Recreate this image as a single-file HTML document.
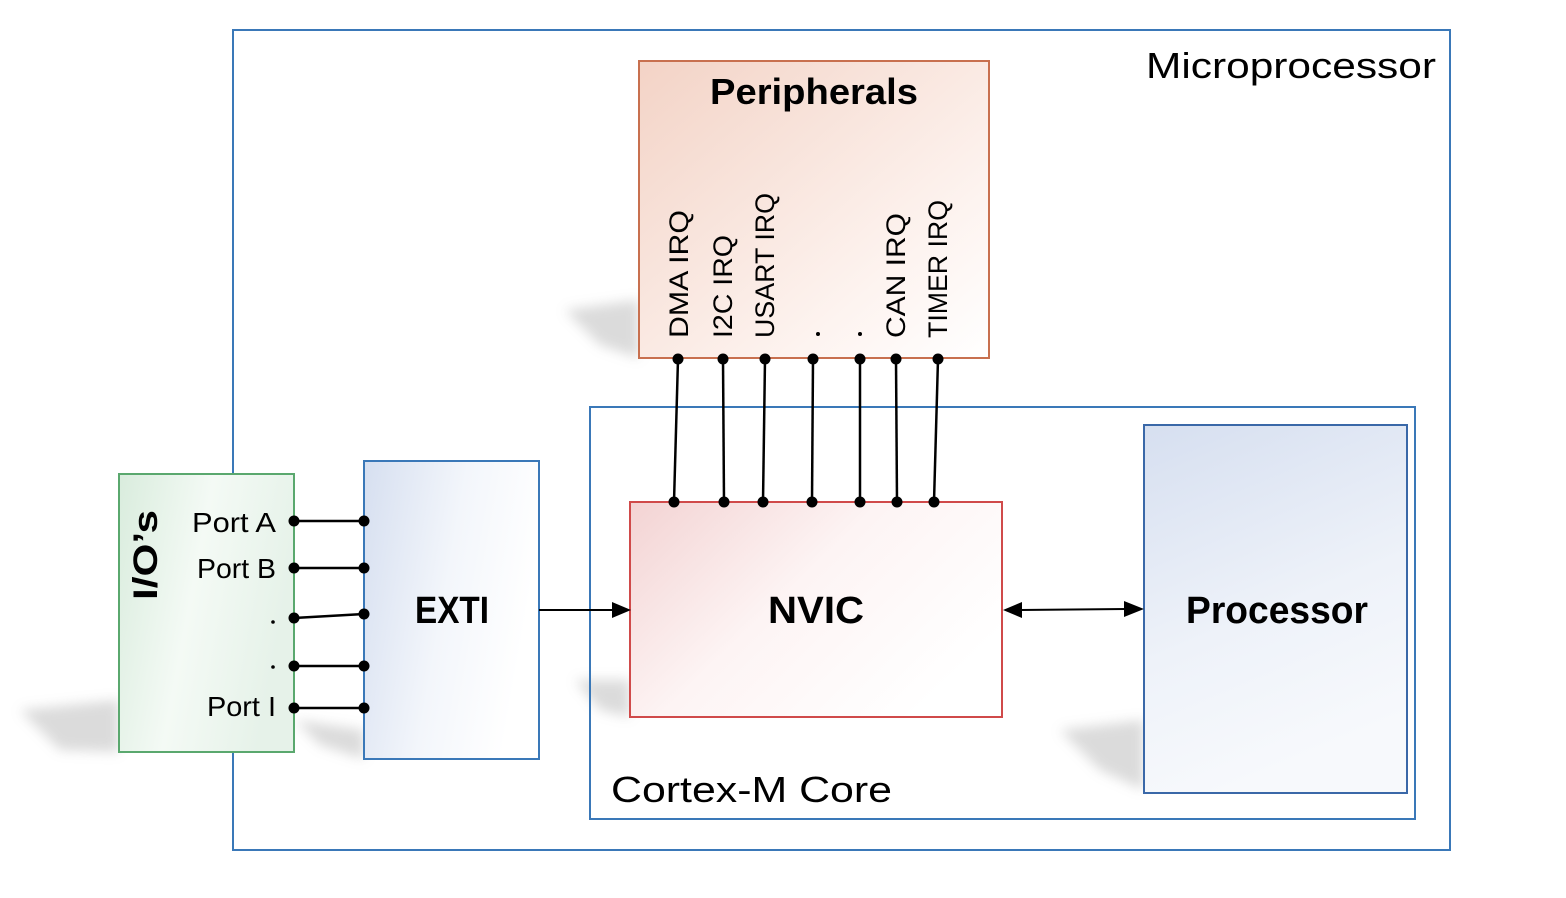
<!DOCTYPE html>
<html><head><meta charset="utf-8"><style>html,body{margin:0;padding:0;background:#fff}svg{display:block}</style></head>
<body>
<svg width="1566" height="898" viewBox="0 0 1566 898" xmlns="http://www.w3.org/2000/svg" font-family="'Liberation Sans', 'DejaVu Sans', sans-serif">
<defs>
<linearGradient id="gp" x1="0" y1="0" x2="1" y2="1"><stop offset="0" stop-color="#f3d3c6"/><stop offset="0.7" stop-color="#fdf3ef"/><stop offset="1" stop-color="#ffffff"/></linearGradient>
<linearGradient id="gn" x1="0" y1="0" x2="1" y2="0.6"><stop offset="0" stop-color="#f3d3d3"/><stop offset="0.5" stop-color="#fdf4f4"/><stop offset="1" stop-color="#ffffff"/></linearGradient>
<linearGradient id="gb" x1="0" y1="0" x2="1" y2="0.3"><stop offset="0" stop-color="#d6dff0"/><stop offset="0.55" stop-color="#f3f6fb"/><stop offset="1" stop-color="#ffffff"/></linearGradient>
<linearGradient id="gpr" x1="0" y1="0" x2="0.3" y2="1"><stop offset="0" stop-color="#d6dff0"/><stop offset="0.6" stop-color="#eef2f9"/><stop offset="1" stop-color="#f7f9fc"/></linearGradient>
<linearGradient id="gg" x1="0" y1="0" x2="1" y2="0.3"><stop offset="0" stop-color="#d9ecdd"/><stop offset="0.5" stop-color="#f4faf5"/><stop offset="1" stop-color="#e6f2e9"/></linearGradient>
<filter id="bl" x="-20%" y="-20%" width="140%" height="140%"><feGaussianBlur stdDeviation="6"/></filter>
</defs>
<g fill="#999" opacity="0.35" filter="url(#bl)">
<polygon points="565,310 639,300 639,358 600,345"/>
<polygon points="20,710 119,700 119,752 60,750"/>
<polygon points="575,680 630,680 630,717 600,710"/>
<polygon points="1060,730 1144,720 1144,790 1100,770"/>
<polygon points="295,720 364,730 364,759 320,745"/>
</g>
<rect x="233" y="30" width="1217" height="820" fill="none" stroke="#3a78b8" stroke-width="2"/>
<text x="1436" y="78" font-size="36" text-anchor="end" textLength="290" lengthAdjust="spacingAndGlyphs">Microprocessor</text>
<rect x="590" y="407" width="825" height="412" fill="none" stroke="#3a78b8" stroke-width="2"/>
<text x="611" y="802" font-size="36" textLength="281" lengthAdjust="spacingAndGlyphs">Cortex-M Core</text>
<rect x="639" y="61" width="350" height="297" fill="url(#gp)" stroke="#c8704f" stroke-width="2"/>
<text x="814" y="104" font-size="36" font-weight="bold" text-anchor="middle" textLength="208" lengthAdjust="spacingAndGlyphs">Peripherals</text>
<g font-size="27">
<text transform="translate(688,338) rotate(-90)" textLength="128" lengthAdjust="spacingAndGlyphs">DMA IRQ</text>
<text transform="translate(732,338) rotate(-90)" textLength="103" lengthAdjust="spacingAndGlyphs">I2C IRQ</text>
<text transform="translate(774,338) rotate(-90)" textLength="145" lengthAdjust="spacingAndGlyphs">USART IRQ</text>
<text transform="translate(905,338) rotate(-90)" textLength="125" lengthAdjust="spacingAndGlyphs">CAN IRQ</text>
<text transform="translate(947,338) rotate(-90)" textLength="138" lengthAdjust="spacingAndGlyphs">TIMER IRQ</text>
</g>
<circle cx="818" cy="334" r="2" fill="#000"/><circle cx="860" cy="334" r="2" fill="#000"/>
<rect x="630" y="502" width="372" height="215" fill="url(#gn)" stroke="#d04a4a" stroke-width="2"/>
<text x="816" y="623" font-size="38" font-weight="bold" text-anchor="middle" textLength="96" lengthAdjust="spacingAndGlyphs">NVIC</text>
<g stroke="#000" stroke-width="2.5" fill="#000">
<line x1="678" y1="359" x2="674" y2="502"/><line x1="723" y1="359" x2="724" y2="502"/><line x1="765" y1="359" x2="763" y2="502"/><line x1="813" y1="359" x2="812" y2="502"/><line x1="860" y1="359" x2="860" y2="502"/><line x1="896" y1="359" x2="897" y2="502"/><line x1="938" y1="359" x2="934" y2="502"/>
</g>
<g fill="#000">
<circle cx="678" cy="359" r="5.5"/><circle cx="723" cy="359" r="5.5"/><circle cx="765" cy="359" r="5.5"/><circle cx="813" cy="359" r="5.5"/><circle cx="860" cy="359" r="5.5"/><circle cx="896" cy="359" r="5.5"/><circle cx="938" cy="359" r="5.5"/>
<circle cx="674" cy="502" r="5.5"/><circle cx="724" cy="502" r="5.5"/><circle cx="763" cy="502" r="5.5"/><circle cx="812" cy="502" r="5.5"/><circle cx="860" cy="502" r="5.5"/><circle cx="897" cy="502" r="5.5"/><circle cx="934" cy="502" r="5.5"/>
</g>
<rect x="1144" y="425" width="263" height="368" fill="url(#gpr)" stroke="#3a68a8" stroke-width="2"/>
<text x="1277" y="623" font-size="38" font-weight="bold" text-anchor="middle" textLength="182" lengthAdjust="spacingAndGlyphs">Processor</text>
<rect x="364" y="461" width="175" height="298" fill="url(#gb)" stroke="#3a78b8" stroke-width="2"/>
<text x="452" y="623" font-size="38" font-weight="bold" text-anchor="middle" textLength="74" lengthAdjust="spacingAndGlyphs">EXTI</text>
<rect x="119" y="474" width="175" height="278" fill="url(#gg)" stroke="#5aa86e" stroke-width="2"/>
<text transform="translate(157,555) rotate(-90)" font-size="34" font-weight="bold" text-anchor="middle" textLength="90" lengthAdjust="spacingAndGlyphs">I/O’s</text>
<g font-size="28" text-anchor="end">
<text x="276" y="532" textLength="84" lengthAdjust="spacingAndGlyphs">Port A</text>
<text x="276" y="578" textLength="79" lengthAdjust="spacingAndGlyphs">Port B</text>
<text x="276" y="716" textLength="69" lengthAdjust="spacingAndGlyphs">Port I</text>
</g>
<circle cx="273" cy="622" r="1.8" fill="#000"/><circle cx="273" cy="667" r="1.8" fill="#000"/>
<g stroke="#000" stroke-width="2.5">
<line x1="294" y1="521" x2="364" y2="521"/><line x1="294" y1="568" x2="364" y2="568"/><line x1="294" y1="618" x2="364" y2="614"/><line x1="294" y1="666" x2="364" y2="666"/><line x1="294" y1="708" x2="364" y2="708"/>
</g>
<g fill="#000">
<circle cx="294" cy="521" r="5.5"/><circle cx="364" cy="521" r="5.5"/><circle cx="294" cy="568" r="5.5"/><circle cx="364" cy="568" r="5.5"/><circle cx="294" cy="618" r="5.5"/><circle cx="364" cy="614" r="5.5"/><circle cx="294" cy="666" r="5.5"/><circle cx="364" cy="666" r="5.5"/><circle cx="294" cy="708" r="5.5"/><circle cx="364" cy="708" r="5.5"/>
</g>
<line x1="539" y1="610" x2="612" y2="610" stroke="#000" stroke-width="2"/>
<polygon points="612,602 631,610 612,618" fill="#000"/>
<line x1="1020" y1="610" x2="1126" y2="609" stroke="#000" stroke-width="2"/>
<polygon points="1022,602 1003,610 1022,618" fill="#000"/>
<polygon points="1124,601 1144,609 1124,617" fill="#000"/>
</svg>
</body></html>
